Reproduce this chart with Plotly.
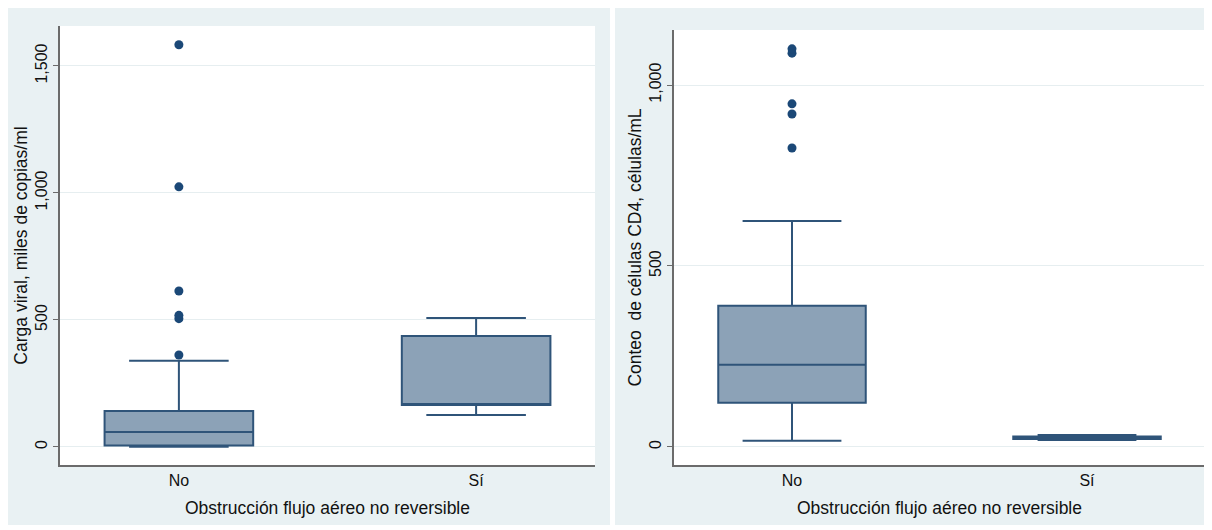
import plotly.graph_objects as go

categories = ["No", "Sí"]

# Panel 1: Carga viral (miles de copias/ml)
cv_low = [1, 126]
cv_q1 = [6, 165]
cv_median = [59, 169]
cv_q3 = [142, 437]
cv_high = [339, 508]
cv_outliers_no = [362, 505, 518, 614, 1024, 1583]

# Panel 2: Conteo de células CD4 (células/mL)
cd4_low = [17, 19]
cd4_q1 = [122, 22]
cd4_median = [227, 25]
cd4_q3 = [390, 29]
cd4_high = [624, 33]
cd4_outliers_no = [826, 920, 948, 1088, 1100]

y1_ticks = [0, 500, 1000, 1500]
y2_ticks = [0, 500, 1000]

BOX_FILL = "#8ca2b7"
BOX_LINE = "#2f5479"
DOT = "#1b4877"
PANEL_BG = "#e9f1f3"
GRID = "#e6eef0"
AXIS = "#6b6b6b"
W, H = 1204, 522

fig = go.Figure()

def add_panel(xa, ya, low, q1, med, q3, high, outl):
    fig.add_trace(go.Box(
        x=categories, lowerfence=low, q1=q1, median=med, q3=q3, upperfence=high,
        xaxis=xa, yaxis=ya, fillcolor=BOX_FILL,
        line=dict(color=BOX_LINE, width=2), width=0.5, whiskerwidth=0.67,
        boxpoints=False, showlegend=False, hoverinfo="skip"))
    fig.add_trace(go.Scatter(
        x=[categories[0]] * len(outl), y=outl, mode="markers",
        xaxis=xa, yaxis=ya,
        marker=dict(color=DOT, size=9), showlegend=False, hoverinfo="skip"))

add_panel("x", "y", cv_low, cv_q1, cv_median, cv_q3, cv_high, cv_outliers_no)
add_panel("x2", "y2", cd4_low, cd4_q1, cd4_median, cd4_q3, cd4_high, cd4_outliers_no)

font = dict(family="Liberation Sans, Arial, sans-serif", color="#111111")

xcommon = dict(
    type="category", range=[-0.4, 1.4], showgrid=False, zeroline=False,
    showline=True, linecolor=AXIS, linewidth=2, ticks="",
    tickfont=dict(size=16, **font),
    title=dict(text="Obstrucción flujo aéreo no reversible",
               font=dict(size=17.5, **font), standoff=14),
)
ycommon = dict(
    showgrid=True, gridcolor=GRID, gridwidth=1, zeroline=False,
    showline=True, linecolor=AXIS, linewidth=2, ticks="outside", ticklen=5,
    tickcolor=AXIS, tickangle=-90, tickformat=",", tickmode="array",
    tickfont=dict(size=16, **font), ticklabelstandoff=0,
)

yd = [(H - 457) / H, (H - 18) / H]
yd2 = [(H - 457) / H, (H - 22) / H]

fig.update_layout(
    width=W, height=H, margin=dict(l=0, r=0, t=0, b=0),
    paper_bgcolor=PANEL_BG, plot_bgcolor="white",
    xaxis=dict(domain=[52 / W, 587 / W], anchor="y", **xcommon),
    yaxis=dict(domain=yd, anchor="x", range=[-71, 1657], tickvals=y1_ticks,
               title=dict(text="Carga viral, miles de copias/ml",
                          font=dict(size=17.5, **font), standoff=0),
               **ycommon),
    xaxis2=dict(domain=[666 / W, 1197 / W], anchor="y2", **xcommon),
    yaxis2=dict(domain=yd2, anchor="x2", range=[-50, 1152], tickvals=y2_ticks,
                title=dict(text="Conteo  de células CD4, células/mL",
                           font=dict(size=17.5, **font), standoff=0),
                **ycommon),
    shapes=[
        dict(type="rect", xref="paper", yref="paper", x0=0, x1=1, y0=0, y1=5 / H,
             fillcolor="white", line_width=0, layer="below"),
        dict(type="rect", xref="paper", yref="paper", x0=602 / W, x1=607 / W, y0=0, y1=1,
             fillcolor="white", line_width=0, layer="below"),
    ],
)

fig.write_html("out.html")
